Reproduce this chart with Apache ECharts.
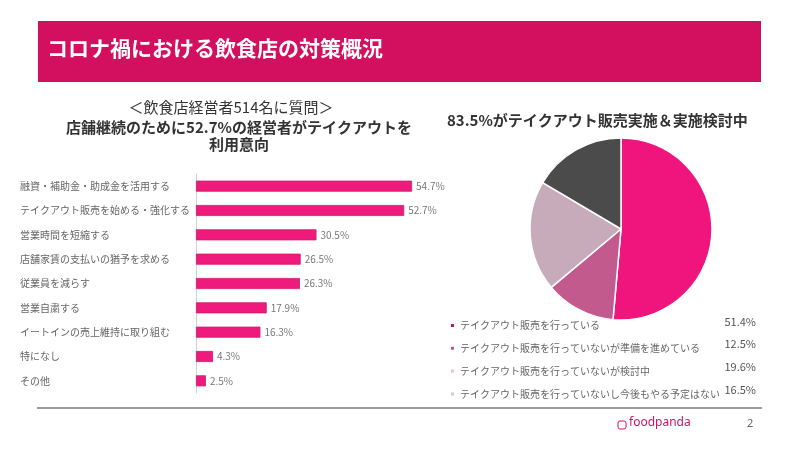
<!DOCTYPE html>
<html><head><meta charset="utf-8">
<script src="https://cdn.jsdelivr.net/npm/echarts@6/dist/echarts.min.js"></script>
<style>html,body{margin:0;padding:0;background:#fff}#c{width:800px;height:450px}</style>
</head><body><div id="c"></div>
<script>
const barCategories = ['融資・補助金・助成金を活用する','テイクアウト販売を始める・強化する','営業時間を短縮する','店舗家賃の支払いの猶予を求める','従業員を減らす','営業自粛する','イートインの売上維持に取り組む','特になし','その他'];
const barValues = [54.7, 52.7, 30.5, 26.5, 26.3, 17.9, 16.3, 4.3, 2.5];
const pieNames = ['テイクアウト販売を行っている','テイクアウト販売を行っていないが準備を進めている','テイクアウト販売を行っていないが検討中','テイクアウト販売を行っていないし今後もやる予定はない'];
const pieValues = [51.4, 12.5, 19.6, 16.5];
const pieColors = ['#F0157D','#C35A8E','#C8ABBB','#4B4B4B'];
const legendColors = ['#B8195F','#C2578A','#F0C2D6','#CFCFCF'];
const FONT = '"Noto Sans CJK JP", sans-serif';

const chart = echarts.init(document.getElementById('c'), null, {renderer:'canvas'});
const valMap = {};
pieNames.forEach((n,i)=>valMap[n]=pieValues[i]);

chart.setOption({
  backgroundColor:'#fff',
  textStyle:{fontFamily:FONT},
  animation:false,
  title:[
    {text:'＜飲食店経営者514名に質問＞', left:226, top:95, textAlign:'center',
     textStyle:{fontFamily:FONT,fontSize:15,fontWeight:'normal',color:'#333'}},
    {text:'店舗継続のために52.7%の経営者がテイクアウトを\n利用意向', left:234, top:114, textAlign:'center',
     textStyle:{fontFamily:FONT,fontSize:15,fontWeight:'bold',color:'#333',lineHeight:17}},
    {text:'83.5%がテイクアウト販売実施＆実施検討中', left:442, top:108,
     textStyle:{fontFamily:FONT,fontSize:15,fontWeight:'bold',color:'#333'}}
  ],
  grid:{left:196, top:174, width:237, height:219, containLabel:false},
  xAxis:{type:'value', min:0, max:60, show:false},
  yAxis:{type:'category', data:barCategories, inverse:true,
    axisLine:{show:true, lineStyle:{color:'#d0d0d0'}}, axisTick:{show:false},
    axisLabel:{align:'left', margin:176, fontFamily:FONT, fontSize:10, color:'#666'}},
  legend:{orient:'vertical', left:449, top:316, padding:0, icon:'rect', itemWidth:5, itemHeight:5, itemGap:3.8,
    selectedMode:false,
    data:pieNames.map((n,i)=>({name:n, itemStyle:{color:legendColors[i]}})),
    formatter:n=>'{n|'+n+'}{v|'+valMap[n].toFixed(1)+'%}',
    textStyle:{fontFamily:FONT, fontSize:10, color:'#666', lineHeight:14,
      rich:{n:{width:258, fontSize:10, lineHeight:14, color:'#666', fontFamily:FONT},
            v:{width:38, align:'right', fontSize:11, lineHeight:14, color:'#555', fontFamily:FONT, padding:[0,0,8,0]}}}},
  series:[
    {type:'bar', data:barValues, barWidth:11,
     itemStyle:{color:'#EE1A7C', borderColor:'#D3166C', borderWidth:0.8},
     label:{show:true, position:'right', distance:4, formatter:p=>p.value.toFixed(1)+'%',
       fontFamily:FONT, fontSize:10, color:'#777'}},
    {type:'pie', center:[621,229], radius:91, startAngle:90, clockwise:true,
     label:{show:false}, labelLine:{show:false},
     itemStyle:{borderColor:'#fff', borderWidth:1.5},
     data:pieNames.map((n,i)=>({name:n, value:pieValues[i], itemStyle:{color:pieColors[i]}}))}
  ],
  graphic:[
    {type:'rect', shape:{x:38, y:21, width:723, height:61}, style:{fill:'#D2105F'}},
    {type:'text', left:47, top:38, style:{text:'コロナ禍における飲食店の対策概況', fill:'#fff',
      font:'bold 21px "Noto Sans CJK JP", sans-serif'}},
    {type:'line', shape:{x1:37, y1:408, x2:762, y2:408}, style:{stroke:'#7a7a7a', lineWidth:1.5}},
    {type:'rect', shape:{x:618, y:421, width:8, height:8, r:2}, style:{fill:'none', stroke:'#D70F64', lineWidth:1}},
    {type:'text', left:629, top:417, style:{text:'foodpanda', fill:'#D70F64',
      font:'12px "Noto Sans", sans-serif'}},
    {type:'text', left:747, top:418, style:{text:'2', fill:'#666', font:'11px "Noto Sans", sans-serif'}}
  ]
});
</script></body></html>
